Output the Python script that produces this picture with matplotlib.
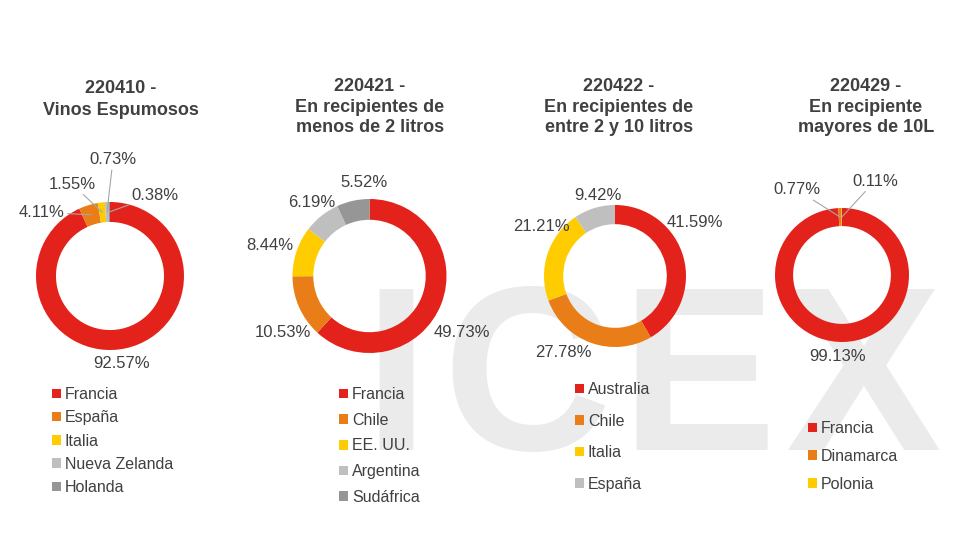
import numpy as np
import matplotlib
matplotlib.use('Agg')
import matplotlib.pyplot as plt

plt.rcParams['font.family'] = ['Liberation Sans', 'DejaVu Sans']

# colours
RED = '#e3231b'
ORANGE = '#e97d17'
YELLOW = '#ffcc00'
LGRAY = '#bfbfbf'
DGRAY = '#969696'
TXT = '#404040'

# data
titles = ['220410 -\nVinos Espumosos',
          '220421 -\nEn recipientes de\nmenos de 2 litros',
          '220422 -\nEn recipientes de\nentre 2 y 10 litros',
          '220429 -\nEn recipiente\nmayores de 10L']

names_1 = ['Francia', 'España', 'Italia', 'Nueva Zelanda', 'Holanda']
vals_1 = [92.57, 4.11, 1.55, 0.73, 0.38]

names_2 = ['Francia', 'Chile', 'EE. UU.', 'Argentina', 'Sudáfrica']
vals_2 = [49.73, 10.53, 8.44, 6.19, 5.52]

names_3 = ['Australia', 'Chile', 'Italia', 'España']
vals_3 = [41.59, 27.78, 21.21, 9.42]

names_4 = ['Francia', 'Dinamarca', 'Polonia']
vals_4 = [99.13, 0.77, 0.11]

# layout (pixels on a 980x560 canvas)
W, H = 980, 560
pies = [
    dict(names=names_1, vals=vals_1, colors=[RED, ORANGE, YELLOW, LGRAY, DGRAY],
         center=(110, 276), r=74, title_x=121, title_y=80, tls=1.35,
         lab=[(0.16, -1.18), (-0.92, 0.86), (-0.51, 1.24), (0.04, 1.57), (0.61, 1.09)],
         lead=[False, True, True, True, True],
         leg=(52, 387), lsp=0.52),
    dict(names=names_2, vals=vals_2, colors=[RED, ORANGE, YELLOW, LGRAY, DGRAY],
         center=(369.5, 276), r=77, title_x=370, title_y=78, tls=1.28,
         lab=[(1.20, -0.74), (-1.12, -0.74), (-1.29, 0.39), (-0.75, 0.96), (-0.07, 1.21)],
         lead=[False] * 5,
         leg=(339, 387), lsp=0.67),
    dict(names=names_3, vals=vals_3, colors=[RED, ORANGE, YELLOW, LGRAY],
         center=(615, 276), r=71, title_x=619, title_y=78, tls=1.28,
         lab=[(1.13, 0.75), (-0.73, -1.08), (-1.04, 0.70), (-0.24, 1.14)],
         lead=[False] * 4,
         leg=(575, 382), lsp=1.04),
    dict(names=names_4, vals=vals_4, colors=[RED, ORANGE, YELLOW],
         center=(842, 275), r=67, title_x=866, title_y=78, tls=1.28,
         lab=[(-0.07, -1.22), (-0.67, 1.27), (0.49, 1.40)],
         lead=[False, True, True],
         leg=(808, 421), lsp=0.81),
]

fig = plt.figure(figsize=(W / 100, H / 100), dpi=100)
fig.patch.set_facecolor('white')

# faint ICEX watermark behind everything
for letter, lx in zip('ICEX', [396, 527, 698, 864]):
    fig.text(lx / W, 1 - 450 / H, letter, fontsize=168, fontweight='bold',
             color='#ebebeb', ha='center', va='baseline', zorder=-5)

for title, p in zip(titles, pies):
    cx, cy = p['center']
    r = p['r']
    ax = fig.add_axes([(cx - r) / W, 1 - (cy + r) / H, 2 * r / W, 2 * r / H])
    wedges, _ = ax.pie(p['vals'], colors=p['colors'], startangle=90, counterclock=False,
                       radius=1, wedgeprops=dict(width=0.27, linewidth=0))
    ax.set_xlim(-1, 1)
    ax.set_ylim(-1, 1)
    ax.axis('off')

    # percentage labels, leader lines to the small slices
    for w, v, pos, lead in zip(wedges, p['vals'], p['lab'], p['lead']):
        ang = np.deg2rad((w.theta1 + w.theta2) / 2)
        xy = (0.865 * np.cos(ang), 0.865 * np.sin(ang))
        arrow = dict(arrowstyle='-', color='#a6a6a6', lw=0.8, shrinkA=0, shrinkB=0) if lead else None
        ax.annotate(f'{v:.2f}%', xy=xy, xytext=pos, ha='center', va='center',
                    fontsize=12, color=TXT, arrowprops=arrow, annotation_clip=False)

    fig.text(p['title_x'] / W, 1 - p['title_y'] / H, title, ha='center', va='top',
             fontsize=13, fontweight='bold', color=TXT, linespacing=p['tls'],
             multialignment='center')

    lx, ly = p['leg']
    ax.legend(wedges, p['names'], loc='upper left', bbox_to_anchor=(lx / W, 1 - ly / H),
              bbox_transform=fig.transFigure, frameon=False, fontsize=11.5,
              handlelength=0.55, handleheight=0.55, handletextpad=0.25,
              labelspacing=p['lsp'], borderpad=0, borderaxespad=0, labelcolor=TXT)

fig.savefig('out.png', dpi=100, facecolor='white')
